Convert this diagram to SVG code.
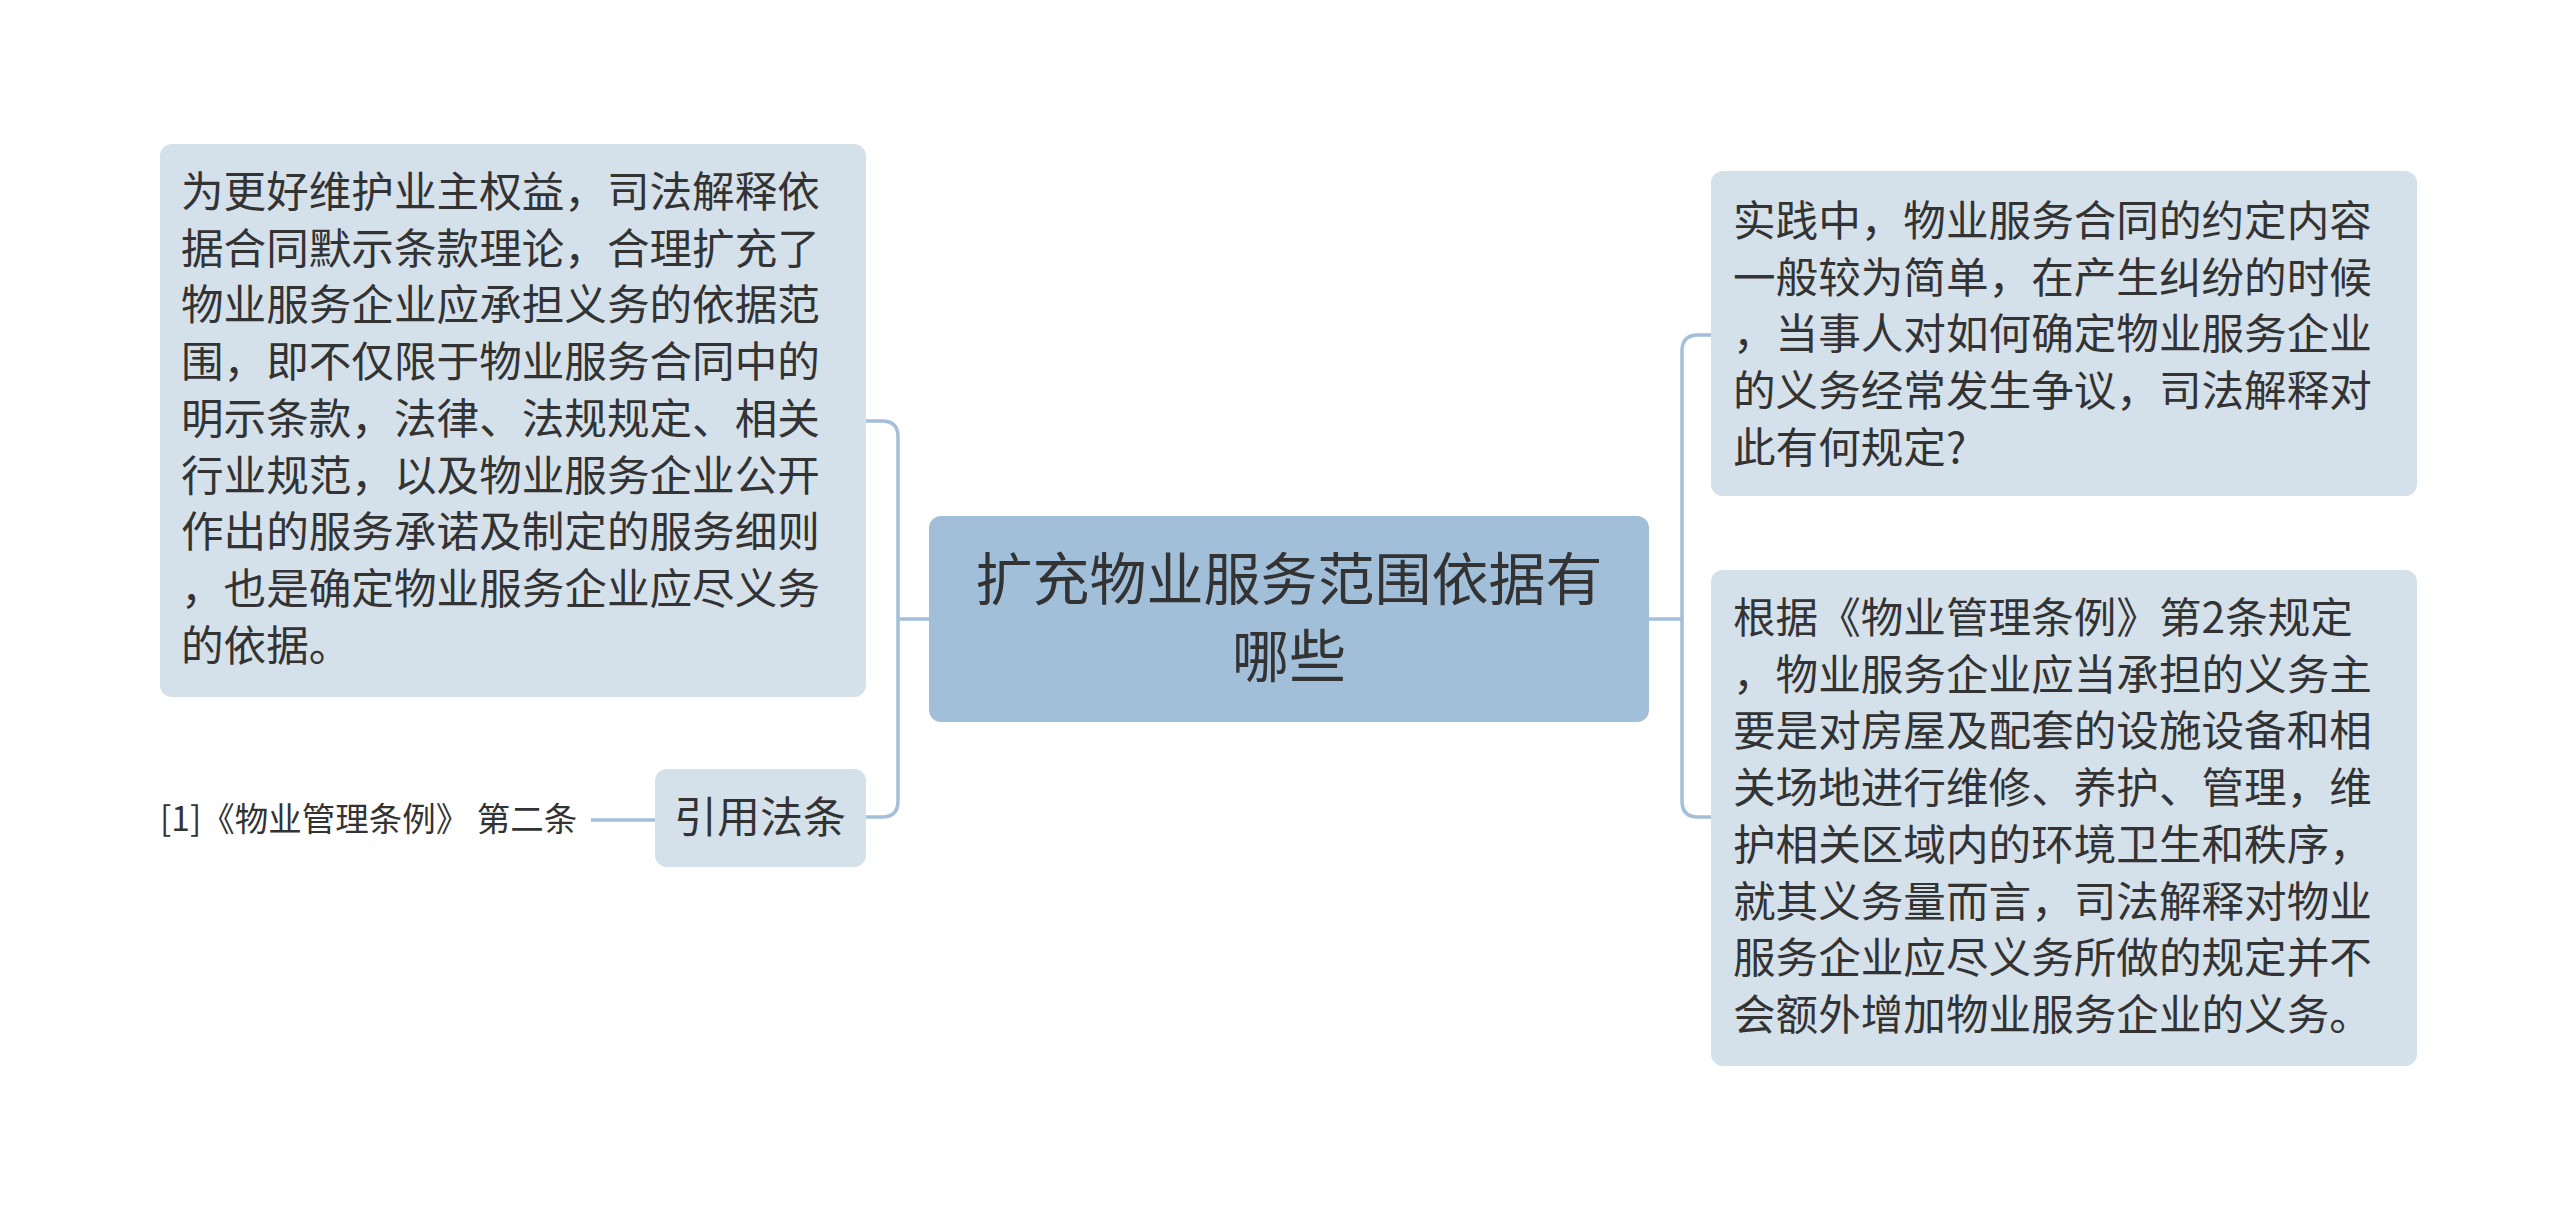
<svg xmlns="http://www.w3.org/2000/svg" width="2560" height="1209" viewBox="0 0 2560 1209">
<style>
.b{fill:#d4e0ea}
.t{font-family:"Noto Sans CJK SC","Noto Sans",sans-serif;font-size:42.6px;fill:#333}
.c{fill:none;stroke:#a4bfd9;stroke-width:3.5}
</style>
<rect width="2560" height="1209" fill="#fff"/>
<g id="connectors">
<path class="c" d="M929 619 H898 M866 421 H882 Q898 421 898 437 V801 Q898 817 882 817 H866"/>
<path class="c" d="M591 820 H655"/>
<path class="c" d="M1649 619 H1682 M1711 335 H1698 Q1682 335 1682 351 V801 Q1682 817 1698 817 H1711"/>
</g>
<g id="center">
<rect x="929" y="516" width="720" height="206" rx="12" fill="#a2bfda"/>
<text class="t" style="font-size:57px" x="1289" y="600" text-anchor="middle">扩充物业服务范围依据有</text>
<text class="t" style="font-size:57px" x="1289" y="677" text-anchor="middle">哪些</text>
</g>
<g id="left1">
<rect class="b" x="160" y="144" width="706" height="553" rx="12"/>
<text class="t" x="181"><tspan x="181" y="207">为更好维护业主权益，司法解释依</tspan><tspan x="181" dy="56.7">据合同默示条款理论，合理扩充了</tspan><tspan x="181" dy="56.7">物业服务企业应承担义务的依据范</tspan><tspan x="181" dy="56.7">围，即不仅限于物业服务合同中的</tspan><tspan x="181" dy="56.7">明示条款，法律、法规规定、相关</tspan><tspan x="181" dy="56.7">行业规范，以及物业服务企业公开</tspan><tspan x="181" dy="56.7">作出的服务承诺及制定的服务细则</tspan><tspan x="181" dy="56.7">，也是确定物业服务企业应尽义务</tspan><tspan x="181" dy="56.7">的依据。</tspan></text>
</g>
<g id="left2">
<rect class="b" x="655" y="769" width="211" height="98" rx="12"/>
<text class="t" x="760" y="833" text-anchor="middle" style="font-size:43px">引用法条</text>
</g>
<g id="ref">
<text class="t" x="160" y="831" style="font-size:33.5px">[1]《物业管理条例》 第二条</text>
</g>
<g id="right1">
<rect class="b" x="1711" y="171" width="706" height="325" rx="12"/>
<text class="t"><tspan x="1733" y="236">实践中，物业服务合同的约定内容</tspan><tspan x="1733" dy="56.7">一般较为简单，在产生纠纷的时候</tspan><tspan x="1733" dy="56.7">，当事人对如何确定物业服务企业</tspan><tspan x="1733" dy="56.7">的义务经常发生争议，司法解释对</tspan><tspan x="1733" dy="56.7">此有何规定?</tspan></text>
</g>
<g id="right2">
<rect class="b" x="1711" y="570" width="706" height="496" rx="12"/>
<text class="t"><tspan x="1733" y="633">根据《物业管理条例》第2条规定</tspan><tspan x="1733" dy="56.7">，物业服务企业应当承担的义务主</tspan><tspan x="1733" dy="56.7">要是对房屋及配套的设施设备和相</tspan><tspan x="1733" dy="56.7">关场地进行维修、养护、管理，维</tspan><tspan x="1733" dy="56.7">护相关区域内的环境卫生和秩序，</tspan><tspan x="1733" dy="56.7">就其义务量而言，司法解释对物业</tspan><tspan x="1733" dy="56.7">服务企业应尽义务所做的规定并不</tspan><tspan x="1733" dy="56.7">会额外增加物业服务企业的义务。</tspan></text>
</g>
</svg>
